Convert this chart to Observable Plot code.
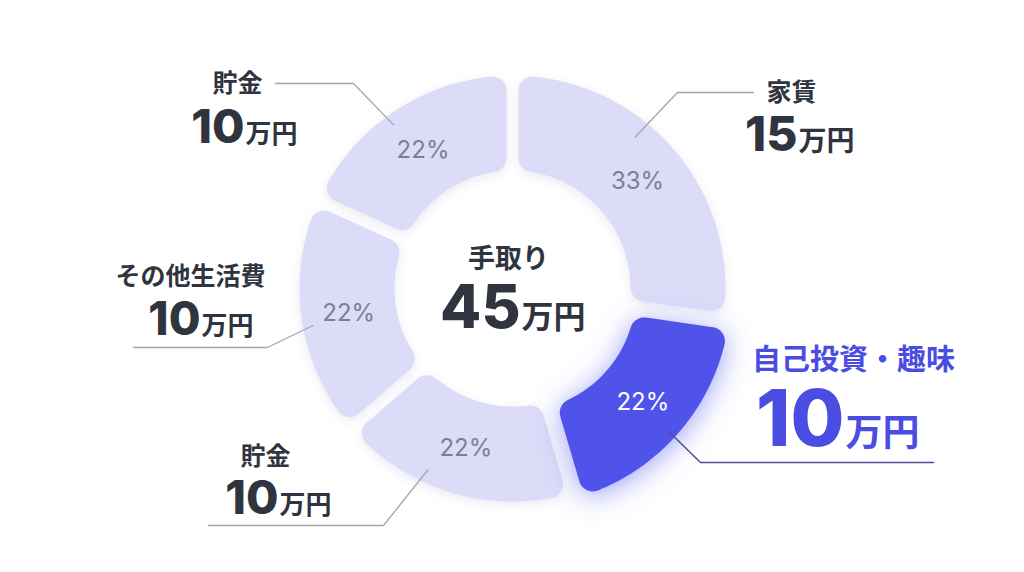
<!DOCTYPE html>
<html>
<head>
<meta charset="utf-8">
<script src="https://cdn.jsdelivr.net/npm/d3@7"></script>
<script src="https://cdn.jsdelivr.net/npm/@observablehq/plot@0.6"></script>
<style>
  html, body { margin: 0; padding: 0; background: #ffffff; }
  #chart { width: 1024px; height: 572px; }
</style>
</head>
<body>
<div id="chart"></div>
<script>
// ---------- data ----------
const categories = ["家賃", "自己投資・趣味", "貯金", "その他生活費", "貯金"];
const amounts = [15, 10, 10, 10, 10];            // 万円
const percentLabels = ["33%", "22%", "22%", "22%", "22%"];
const highlighted = [false, true, false, false, false];
const centerTitle = "手取り";
const centerAmount = 45;                           // 万円
const unit = "万円";

// ---------- layout (positions / styles, not data) ----------
const W = 1024, H = 572;
const CX = 512, CY = 288;
const R_OUT = 213, R_IN = 118;
const PAD_PX = 12, CORNER = 14, POP = 7;
const colors = { light: "#dcdcf8", hi: "#5052ea", text: "#30343f", hiText: "#4a4ce2",
                 pct: "#7b7e94", lead: "#a3a5b0", hiLead: "#4b4f9c" };
// per slice: leader start (angle deg, radius), elbow, end x, name pos, number/unit split
const labelLayout = [
  { a: 39,  r: 195, ex: 677, ey: 92,  endX: 753, nx: 791, ny: 100, sx: 797, vy: 150, nf: 25, vf: 48, uf: 28 },
  { a: 132.5, r: 214, ex: 700, ey: 462, endX: 933, nx: 853, ny: 369, sx: 844, vy: 445, nf: 29, vf: 78, uf: 37 },
  { a: 205, r: 200, ex: 383, ey: 525, endX: 208, nx: 265, ny: 464, sx: 278, vy: 513, nf: 25, vf: 47, uf: 26 },
  { a: 259.5, r: 203, ex: 267, ey: 347, endX: 133, nx: 190, ny: 284, sx: 200, vy: 334, nf: 25, vf: 46, uf: 26 },
  { a: 324, r: 202, ex: 353, ey: 83,  endX: 275, nx: 237, ny: 91,  sx: 244, vy: 142, nf: 25, vf: 47, uf: 26 }
];

// ---------- geometry via d3.pie / d3.arc, sampled into points ----------
const slices = categories.map((c, i) => ({ i, name: c, amount: amounts[i], pct: percentLabels[i], hi: highlighted[i] }));
const pie = d3.pie().sort(null).value(d => d.amount)(slices);
const arcGen = d3.arc().innerRadius(R_IN).outerRadius(R_OUT)
  .cornerRadius(CORNER).padAngle(PAD_PX / R_OUT).padRadius(R_OUT);

function sampleArc(p, dx, dy) {
  const pts = [];
  const ctx = {
    moveTo(x, y) { pts.push([x, y]); },
    lineTo(x, y) { pts.push([x, y]); },
    closePath() {},
    arc(x, y, r, a0, a1, ccw) {
      if (!ccw) { while (a1 < a0) a1 += 2 * Math.PI; }
      else { while (a1 > a0) a1 -= 2 * Math.PI; }
      const n = Math.max(2, Math.ceil(Math.abs(a1 - a0) * r / 2));
      for (let k = 0; k <= n; k++) {
        const a = a0 + (a1 - a0) * k / n;
        pts.push([x + r * Math.cos(a), y + r * Math.sin(a)]);
      }
    }
  };
  arcGen.context(ctx)(p);
  return pts.map(([x, y], k) => ({ x: CX + dx + x, y: CY + dy + y, k }));
}

const polyRows = [];
const pctRows = [];
pie.forEach(p => {
  const d = p.data;
  const mid = (p.startAngle + p.endAngle) / 2;
  const off = d.hi ? POP : 0;
  const dx = off * Math.sin(mid), dy = -off * Math.cos(mid);
  sampleArc(p, dx, dy).forEach(pt => polyRows.push({ ...pt, id: d.i, hi: d.hi }));
  const [px, py] = arcGen.centroid(p);
  pctRows.push({ x: CX + dx + px, y: CY + dy + py + 1, label: d.pct, hi: d.hi });
});

const leaderRows = [];
const nameRows = [], numRows = [], unitRows = [];
labelLayout.forEach((L, i) => {
  const a = L.a * Math.PI / 180;
  const sx0 = CX + L.r * Math.sin(a), sy0 = CY - L.r * Math.cos(a);
  [[sx0, sy0], [L.ex, L.ey], [L.endX, L.ey]].forEach(([x, y], k) =>
    leaderRows.push({ x, y, k, id: i, hi: highlighted[i] }));
  nameRows.push({ x: L.nx, y: L.ny, t: categories[i], f: L.nf, hi: highlighted[i] });
  numRows.push({ x: L.sx, y: L.vy, t: String(amounts[i]), f: L.vf, hi: highlighted[i] });
  unitRows.push({ x: L.sx + 1, y: L.vy, t: unit, f: L.uf, hi: highlighted[i] });
});

const JP = "'Noto Sans CJK JP', 'Noto Sans', sans-serif";
const NUM = "Inter, 'Noto Sans', sans-serif";

const lightPoly = polyRows.filter(d => !d.hi);
const hiPoly = polyRows.filter(d => d.hi);

const chart = Plot.plot({
  width: W, height: H,
  margin: 0,
  x: { domain: [0, W], range: [0, W], axis: null },
  y: { domain: [0, H], range: [0, H], axis: null },
  style: { background: "#ffffff", overflow: "visible" },
  marks: [
    Plot.line(lightPoly, { x: "x", y: "y", z: "id", fill: colors.light, stroke: "none", ariaDescription: "lightslices" }),
    Plot.line(hiPoly, { x: "x", y: "y", z: "id", fill: colors.hi, stroke: "none", ariaDescription: "hislice" }),
    Plot.line(leaderRows.filter(d => !d.hi), { x: "x", y: "y", z: "id", stroke: colors.lead, strokeWidth: 1.3, curve: "linear" }),
    Plot.line(leaderRows.filter(d => d.hi), { x: "x", y: "y", z: "id", stroke: colors.hiLead, strokeWidth: 1.5, curve: "linear" }),
    Plot.text(pctRows.filter(d => !d.hi), { x: "x", y: "y", text: "label", fontSize: 24, fill: colors.pct, fontFamily: NUM, fontWeight: 400 }),
    Plot.text(pctRows.filter(d => d.hi), { x: "x", y: "y", text: "label", fontSize: 24, fill: "#ffffff", fontFamily: NUM, fontWeight: 400 }),
    // names
    Plot.text(nameRows.filter(d => !d.hi), { x: "x", y: "y", text: "t", fontSize: d => d.f, fill: colors.text, fontFamily: JP, fontWeight: 700, lineAnchor: "bottom", textAnchor: "middle" }),
    Plot.text(nameRows.filter(d => d.hi), { x: "x", y: "y", text: "t", fontSize: d => d.f, fill: colors.hiText, fontFamily: JP, fontWeight: 700, lineAnchor: "bottom", textAnchor: "middle" }),
    // numbers
    Plot.text(numRows.filter(d => !d.hi), { x: "x", y: "y", text: "t", fontSize: d => d.f, fill: colors.text, fontFamily: NUM, fontWeight: 800, lineAnchor: "bottom", textAnchor: "end" }),
    Plot.text(numRows.filter(d => d.hi), { x: "x", y: "y", text: "t", fontSize: d => d.f, fill: colors.hiText, fontFamily: NUM, fontWeight: 800, lineAnchor: "bottom", textAnchor: "end" }),
    Plot.text(unitRows.filter(d => !d.hi), { x: "x", y: "y", text: "t", fontSize: d => d.f, fill: colors.text, fontFamily: JP, fontWeight: 700, lineAnchor: "bottom", textAnchor: "start" }),
    Plot.text(unitRows.filter(d => d.hi), { x: "x", y: "y", text: "t", fontSize: d => d.f, fill: colors.hiText, fontFamily: JP, fontWeight: 700, lineAnchor: "bottom", textAnchor: "start" }),
    // center
    Plot.text([{ x: 508, y: 267, t: centerTitle }], { x: "x", y: "y", text: "t", fontSize: 27, fill: colors.text, fontFamily: JP, fontWeight: 700, lineAnchor: "bottom" }),
    Plot.text([{ x: 520, y: 327, t: String(centerAmount) }], { x: "x", y: "y", text: "t", fontSize: 60, fill: colors.text, fontFamily: NUM, fontWeight: 800, lineAnchor: "bottom", textAnchor: "end" }),
    Plot.text([{ x: 521, y: 327, t: unit }], { x: "x", y: "y", text: "t", fontSize: 32, fill: colors.text, fontFamily: JP, fontWeight: 700, lineAnchor: "bottom", textAnchor: "start" })
  ]
});

// soft shadows / glow
const ns = "http://www.w3.org/2000/svg";
const defs = document.createElementNS(ns, "defs");
defs.innerHTML = `
  <filter id="softShadow" x="-20%" y="-20%" width="140%" height="140%">
    <feDropShadow dx="0" dy="3" stdDeviation="5" flood-color="#7072b8" flood-opacity="0.16"/>
  </filter>
  <filter id="glow" x="-40%" y="-40%" width="180%" height="180%">
    <feDropShadow dx="0" dy="4" stdDeviation="14" flood-color="#5b5df0" flood-opacity="0.6"/>
  </filter>`;
chart.insertBefore(defs, chart.firstChild);
const lg = chart.querySelector('[aria-description="lightslices"]');
if (lg) lg.setAttribute("filter", "url(#softShadow)");
const hg = chart.querySelector('[aria-description="hislice"]');
if (hg) hg.setAttribute("filter", "url(#glow)");

document.getElementById("chart").appendChild(chart);
</script>
</body>
</html>
